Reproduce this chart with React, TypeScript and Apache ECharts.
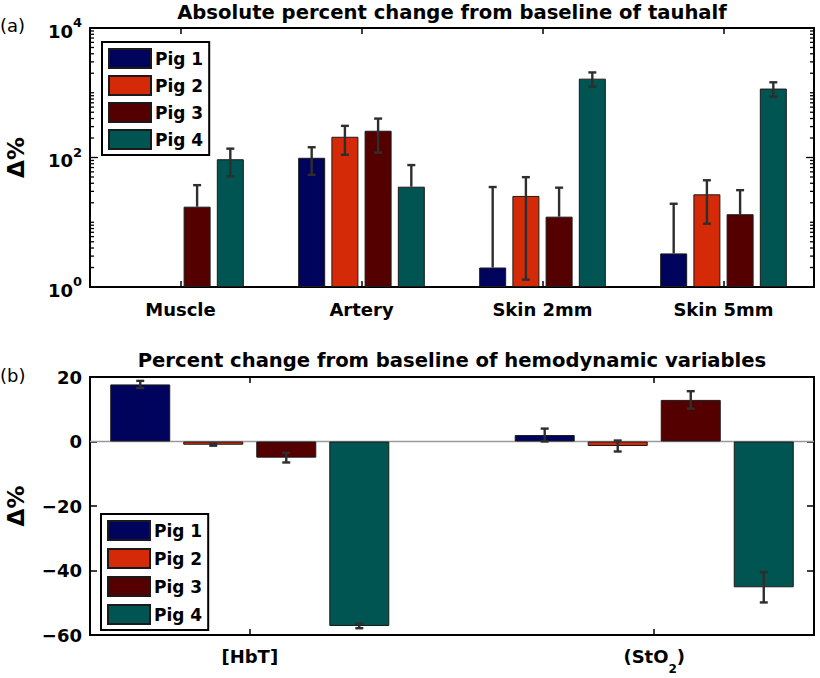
import React, { useEffect, useRef } from "react";
import * as echarts from "echarts";

// ---------- Panel (a): log-scale absolute percent change of tauhalf ----------
const CATS_A = ["Muscle", "Artery", "Skin 2mm", "Skin 5mm"];
const PIG1_A = [null, 99, 2.0, 3.3];
const PIG2_A = [null, 209, 25.5, 27];
const PIG3_A = [17.4, 259, 12.2, 13.3];
const PIG4_A = [94, 35.4, 1650, 1160];
const ERR1_A = [null, 45, 33, 16];
const ERR2_A = [null, 99, 24.2, 17.5];
const ERR3_A = [20, 140, 22, 18];
const ERR4_A = [43, 41, 410, 290];
const Y_LABELS_A = [1, 100, 10000];

// ---------- Panel (b): percent change of hemodynamic variables ----------
const CATS_B = ["[HbT]", "(StO2)"];
const X_POS_B = [1, 2];
const X_RANGE_B = [0.605, 2.395];
const PIG1_B = [17.7, 2.0];
const PIG2_B = [-1.0, -1.4];
const PIG3_B = [-5.0, 12.9];
const PIG4_B = [-57.2, -45.2];
const ERR1_B = [1.1, 2.0];
const ERR2_B = [0.3, 1.7];
const ERR3_B = [1.5, 2.7];
const ERR4_B = [0.7, 4.7];

const PIGS = ["Pig 1", "Pig 2", "Pig 3", "Pig 4"];
const COLORS = ["#00035c", "#d42a07", "#540000", "#005451"];

const FONT = "'DejaVu Sans', Verdana, sans-serif";

const BAR_W_A = 27;
const GAP_A = 0.23;
const BAR_W_B = 60;
const GAP_B = 0.217;

export default function App() {
  const ref = useRef<HTMLDivElement>(null);

  useEffect(() => {
    if (!ref.current) return;
    const chart = echarts.init(ref.current, null, { renderer: "svg" });

    const valsA = [PIG1_A, PIG2_A, PIG3_A, PIG4_A];
    const errsA = [ERR1_A, ERR2_A, ERR3_A, ERR4_A];
    const valsB = [PIG1_B, PIG2_B, PIG3_B, PIG4_B];
    const errsB = [ERR1_B, ERR2_B, ERR3_B, ERR4_B];

    const errDataA: number[][] = [];
    valsA.forEach((arr, p) =>
      arr.forEach((v, c) => {
        if (v != null && errsA[p][c] != null) errDataA.push([c, v as number, p, errsA[p][c] as number]);
      })
    );
    const errDataB: number[][] = [];
    valsB.forEach((arr, p) =>
      arr.forEach((v, c) => errDataB.push([X_POS_B[c], v, p, errsB[p][c]]))
    );

    // log axis tick positions: 1..10 x 10^k (long where labelled)
    const ticksA: number[][] = [[0, 1]];
    for (let k = 0; k < 4; k++) {
      for (let m = 2; m <= 10; m++) ticksA.push([0, m * Math.pow(10, k)]);
    }

    const strideA = BAR_W_A * (1 + GAP_A);
    const strideB = BAR_W_B * (1 + GAP_B);

    const makeErr = (stride: number, isLog: boolean) => (params: any, api: any) => {
      const c = api.value(0);
      const v = api.value(1);
      const p = api.value(2);
      const e = api.value(3);
      const cx = api.coord([c, v])[0] + (p - 1.5) * stride;
      const yTop = api.coord([c, v + e])[1];
      const hasLow = !isLog || v - e > 0;
      const yLow = api.coord([c, hasLow ? v - e : v])[1];
      const st = { stroke: "#2e2e2e", lineWidth: 2.4 };
      const hw = 4;
      const children: any[] = [
        { type: "line", shape: { x1: cx, y1: yTop, x2: cx, y2: yLow }, style: st },
        { type: "line", shape: { x1: cx - hw, y1: yTop, x2: cx + hw, y2: yTop }, style: st },
      ];
      if (hasLow) children.push({ type: "line", shape: { x1: cx - hw, y1: yLow, x2: cx + hw, y2: yLow }, style: st });
      return { type: "group", children };
    };

    const axisLineStyle = { show: true, onZero: false, lineStyle: { color: "#000", width: 2 } };
    const tickLabel = { fontFamily: FONT, fontWeight: "bold", fontSize: 18, color: "#000" };
    const tickStyle = { color: "#000", width: 1.5 };

    const legendCommon = {
      orient: "vertical",
      data: PIGS,
      icon: "rect",
      itemWidth: 42,
      itemHeight: 19,
      itemGap: 6,
      borderColor: "#000",
      borderWidth: 2,
      padding: [6, 6, 5, 6],
      backgroundColor: "#fff",
      selectedMode: false,
      textStyle: { fontFamily: FONT, fontWeight: "bold", fontSize: 17, color: "#000", lineHeight: 19, padding: [0, 0, 0, -1] },
    };

    const xLabelB = (v: number) => {
      const i = X_POS_B.indexOf(Math.round(v));
      if (i < 0) return "";
      const t = CATS_B[i];
      return t === "(StO2)" ? "{t|(StO}{s|2}{t|)}" : "{t|" + t + "}";
    };

    const option: any = {
      animation: false,
      backgroundColor: "#fff",
      grid: [
        { left: 90, top: 28, width: 724, height: 259, outerBoundsMode: "none", containLabel: false },
        { left: 90, top: 377, width: 724, height: 258, outerBoundsMode: "none", containLabel: false },
      ],
      xAxis: [
        {
          type: "category", gridIndex: 0, position: "bottom", data: CATS_A,
          axisLine: axisLineStyle,
          axisTick: { show: true, inside: true, alignWithLabel: true, length: 6, lineStyle: tickStyle },
          axisLabel: { ...tickLabel, margin: 13 },
        },
        {
          type: "category", gridIndex: 0, position: "top", data: CATS_A,
          axisLine: axisLineStyle,
          axisTick: { show: true, inside: true, alignWithLabel: true, length: 6, lineStyle: tickStyle },
          axisLabel: { show: false },
        },
        {
          type: "value", gridIndex: 1, position: "bottom", min: X_RANGE_B[0], max: X_RANGE_B[1],
          axisLine: axisLineStyle,
          axisTick: { show: true, inside: true, length: 6, lineStyle: tickStyle, customValues: X_POS_B },
          axisLabel: {
            margin: 12,
            customValues: X_POS_B,
            formatter: xLabelB,
            rich: {
              t: { ...tickLabel, lineHeight: 22, verticalAlign: "top" },
              s: { ...tickLabel, fontSize: 12, lineHeight: 28, verticalAlign: "bottom" },
            },
          },
          splitLine: { show: false },
        },
        {
          type: "value", gridIndex: 1, position: "top", min: X_RANGE_B[0], max: X_RANGE_B[1],
          axisLine: axisLineStyle,
          axisTick: { show: true, inside: true, length: 6, lineStyle: tickStyle, customValues: X_POS_B },
          axisLabel: { show: false },
          splitLine: { show: false },
        },
      ],
      yAxis: [
        {
          type: "log", gridIndex: 0, logBase: 10, min: 1, max: 10000, position: "left",
          axisLine: axisLineStyle,
          axisTick: { show: false },
          axisLabel: {
            margin: 8,
            formatter: (v: number) =>
              Y_LABELS_A.includes(Math.round(v)) ? "{b|10}{e|" + Math.round(Math.log10(v)) + "}" : "",
            rich: {
              b: { ...tickLabel, lineHeight: 24, verticalAlign: "bottom" },
              e: { ...tickLabel, fontSize: 13, lineHeight: 24, verticalAlign: "top" },
            },
          },
          splitLine: { show: false },
          name: "Δ%",
          nameLocation: "middle",
          nameGap: 63,
          nameTextStyle: { fontFamily: FONT, fontWeight: "bold", fontSize: 23, color: "#000" },
        },
        {
          type: "log", gridIndex: 0, logBase: 10, min: 1, max: 10000, position: "right",
          axisLine: axisLineStyle,
          axisTick: { show: false },
          axisLabel: { show: false },
          splitLine: { show: false },
        },
        {
          type: "value", gridIndex: 1, min: -60, max: 20, interval: 20, position: "left",
          axisLine: axisLineStyle,
          axisTick: { show: true, inside: true, length: 7, lineStyle: tickStyle },
          axisLabel: { ...tickLabel, margin: 8, formatter: (v: number) => String(v).replace("-", "\u2212") },
          splitLine: { show: false },
          name: "Δ%",
          nameLocation: "middle",
          nameGap: 63,
          nameTextStyle: { fontFamily: FONT, fontWeight: "bold", fontSize: 23, color: "#000" },
        },
        {
          type: "value", gridIndex: 1, min: -60, max: 20, interval: 20, position: "right",
          axisLine: axisLineStyle,
          axisTick: { show: true, inside: true, length: 7, lineStyle: tickStyle },
          axisLabel: { show: false },
          splitLine: { show: false },
        },
      ],
      legend: [
        { ...legendCommon, left: 102, top: 42 },
        { ...legendCommon, left: 101, top: 514, itemGap: 7 },
      ],
      graphic: [
        { type: "text", left: 0, top: 16, style: { text: "(a)", font: "18px " + FONT, fill: "#000" } },
        { type: "text", left: 0, top: 366, style: { text: "(b)", font: "18px " + FONT, fill: "#000" } },
        {
          type: "text", x: 452, y: 12,
          style: { text: "Absolute percent change from baseline of tauhalf", font: "bold 19.6px " + FONT, fill: "#000", align: "center", verticalAlign: "middle" },
        },
        {
          type: "text", x: 452, y: 360,
          style: { text: "Percent change from baseline of hemodynamic variables", font: "bold 19.6px " + FONT, fill: "#000", align: "center", verticalAlign: "middle" },
        },
      ],
      series: [
        ...valsA.map((arr, i) => ({
          type: "bar", name: PIGS[i], xAxisIndex: 0, yAxisIndex: 0, data: arr,
          barWidth: BAR_W_A, barGap: GAP_A * 100 + "%",
          itemStyle: { color: COLORS[i], borderColor: "#1a1a1a", borderWidth: 1 },
          z: 2,
        })),
        ...valsB.map((arr, i) => ({
          type: "bar", name: PIGS[i], xAxisIndex: 2, yAxisIndex: 2,
          data: arr.map((v, c) => [X_POS_B[c], v]),
          barWidth: BAR_W_B, barGap: GAP_B * 100 + "%",
          itemStyle: { color: COLORS[i], borderColor: "#1a1a1a", borderWidth: 1 },
          z: 2,
        })),
        {
          type: "line", name: "zero", xAxisIndex: 2, yAxisIndex: 2,
          data: [[X_RANGE_B[0], 0], [X_RANGE_B[1], 0]], symbol: "none", silent: true,
          lineStyle: { color: "#9a9a9a", width: 1.5 }, z: 1,
        },
        {
          type: "custom", name: "errA", xAxisIndex: 0, yAxisIndex: 0, data: errDataA,
          encode: { x: 0, y: 1 }, renderItem: makeErr(strideA, true), z: 5, clip: false, silent: true,
        },
        {
          type: "custom", name: "errB", xAxisIndex: 2, yAxisIndex: 2, data: errDataB,
          encode: { x: 0, y: 1 }, renderItem: makeErr(strideB, false), z: 5, clip: false, silent: true,
        },
        {
          type: "custom", name: "ticksA", xAxisIndex: 0, yAxisIndex: 0, data: ticksA,
          encode: { x: 0, y: 1 }, z: 6, silent: true, clip: false,
          renderItem: (params: any, api: any) => {
            const val = api.value(1);
            const y = api.coord([0, val])[1];
            const cs = params.coordSys;
            const len = Y_LABELS_A.some((t) => Math.abs(t - val) < 1e-6) ? 8 : 4;
            const st = { stroke: "#000", lineWidth: 1.3 };
            return {
              type: "group",
              children: [
                { type: "line", shape: { x1: cs.x, y1: y, x2: cs.x + len, y2: y }, style: st },
                { type: "line", shape: { x1: cs.x + cs.width - len, y1: y, x2: cs.x + cs.width, y2: y }, style: st },
              ],
            };
          },
        },
      ],
    };

    chart.setOption(option);
    return () => chart.dispose();
  }, []);

  return (
    <div
      ref={ref}
      style={{ position: "absolute", left: 0, top: 0, width: 820, height: 678, background: "#fff" }}
    />
  );
}
